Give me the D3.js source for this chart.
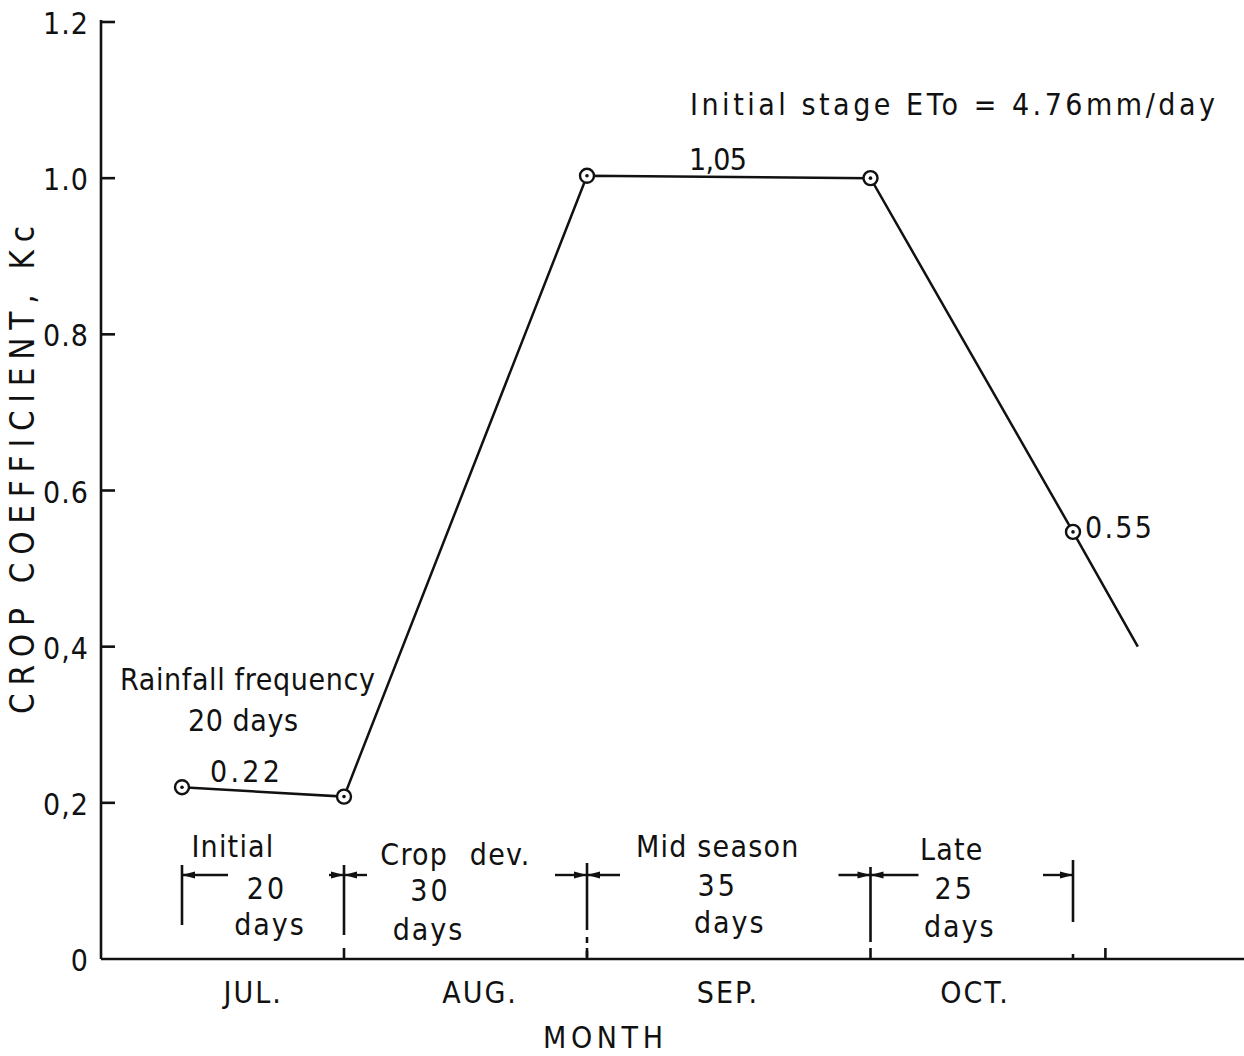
<!DOCTYPE html>
<html>
<head>
<meta charset="utf-8">
<script src="https://cdn.jsdelivr.net/npm/d3@7"></script>
<style>
  body { margin: 0; background: #fff; }
  text { font-family: "DejaVu Sans Condensed", "DejaVu Sans", sans-serif; fill: #111; }
</style>
</head>
<body>
<div id="chart"></div>
<script>
const width = 1244
const height = 1056

// crop coefficient curve, x in days after planting
const days = [0, 20, 50, 85, 110, 118]
const kc = [0.22, 0.208, 1.003, 1.0, 0.547, 0.40]
const markedPoints = 5          // the last point is just where the line stops

const yTicks = [0, 0.2, 0.4, 0.6, 0.8, 1.0, 1.2]
const yTickLabels = ["0", "0,2", "0,4", "0.6", "0.8", "1.0", "1.2"]

const stageNames = ["Initial", "Crop dev.", "Mid season", "Late"]
const stageDays = [20, 30, 35, 25]

const months = ["JUL.", "AUG.", "SEP.", "OCT."]
const monthMid = [8.8, 36.8, 67.4, 97.9]
const axisTickDays = [20, 50, 85, 110, 114]

const x = d3.scaleLinear().domain([0, 120]).range([182, 182 + 120 * 8.1])
const y = d3.scaleLinear().domain([0, 1.2]).range([959, 22])

const svg = d3.select("#chart").append("svg")
    .attr("width", width)
    .attr("height", height)

const ink = "#111"
const fs = 30

// y axis, ticks pointing into the plot
svg.append("line")
    .attr("x1", x(-10)).attr("x2", x(-10))
    .attr("y1", y(1.2) - 2).attr("y2", y(0))
    .attr("stroke", ink).attr("stroke-width", 2.6)

svg.selectAll(".ytick").data(yTicks.slice(1)).join("line")
    .attr("x1", x(-10)).attr("x2", x(-10) + 14)
    .attr("y1", d => y(d)).attr("y2", d => y(d))
    .attr("stroke", ink).attr("stroke-width", 2.6)

svg.selectAll(".ylab").data(yTicks).join("text")
    .attr("x", 89)
    .attr("y", d => y(d) + 12)
    .attr("text-anchor", "end")
    .attr("font-size", fs)
    .attr("letter-spacing", 1)
    .text((d, i) => yTickLabels[i])

svg.append("text")
    .attr("transform", "translate(34,470) rotate(-90)")
    .attr("text-anchor", "middle")
    .attr("font-size", 33)
    .attr("textLength", 488)
    .attr("lengthAdjust", "spacing")
    .text("CROP COEFFICIENT, Kc")

// x axis
svg.append("line")
    .attr("x1", x(-10)).attr("x2", width)
    .attr("y1", y(0)).attr("y2", y(0))
    .attr("stroke", ink).attr("stroke-width", 2.6)

svg.selectAll(".xtick").data(axisTickDays).join("line")
    .attr("x1", d => x(d)).attr("x2", d => x(d))
    .attr("y1", y(0)).attr("y2", (d, i) => y(0) - (d === 110 ? 5 : 11))
    .attr("stroke", ink).attr("stroke-width", 2.6)

svg.selectAll(".month").data(months).join("text")
    .attr("x", (d, i) => x(monthMid[i]))
    .attr("y", 1003)
    .attr("text-anchor", "middle")
    .attr("font-size", fs)
    .attr("letter-spacing", 2)
    .text(d => d)

svg.append("text")
    .attr("x", 603).attr("y", 1048)
    .attr("text-anchor", "middle")
    .attr("font-size", fs)
    .attr("textLength", 120)
    .attr("lengthAdjust", "spacing")
    .text("MONTH")

// Kc line and circle markers
const pts = days.map((d, i) => [d, kc[i]])
svg.append("path")
    .datum(pts)
    .attr("fill", "none")
    .attr("stroke", ink)
    .attr("stroke-width", 2.5)
    .attr("d", d3.line().x(d => x(d[0])).y(d => y(d[1])))

const marks = svg.selectAll(".pt").data(pts.slice(0, markedPoints)).join("g")
    .attr("transform", d => `translate(${x(d[0])},${y(d[1])})`)
marks.append("circle").attr("r", 7).attr("fill", "#fff").attr("stroke", ink).attr("stroke-width", 2.4)
marks.append("circle").attr("r", 1.8).attr("fill", ink)

// stage boundaries with little arrows
const bounds = [0]
stageDays.forEach(d => bounds.push(bounds[bounds.length - 1] + d))
const arrowY = 875
const boundTop = [865, 865, 863, 867, 860]
const boundBot = [925, 935, 930, 942, 922]

svg.selectAll(".bound").data(bounds).join("line")
    .attr("x1", d => x(d)).attr("x2", d => x(d))
    .attr("y1", (d, i) => boundTop[i]).attr("y2", (d, i) => boundBot[i])
    .attr("stroke", ink).attr("stroke-width", 2.6)

// dashed continuation at the start of mid season
svg.append("line")
    .attr("x1", x(50)).attr("x2", x(50))
    .attr("y1", 937).attr("y2", y(0))
    .attr("stroke", ink).attr("stroke-width", 2.6)
    .attr("stroke-dasharray", "6,8")

function arrow(xTip, dir, len) {
  // dir = -1 points left, +1 points right
  svg.append("line")
      .attr("x1", xTip).attr("x2", xTip - dir * len)
      .attr("y1", arrowY).attr("y2", arrowY)
      .attr("stroke", ink).attr("stroke-width", 2.4)
  svg.append("path")
      .attr("d", `M${xTip},${arrowY} l${-dir * 13},-3.5 l0,7 z`)
      .attr("fill", ink)
}
arrow(x(0), -1, 46)
arrow(x(20), 1, 15); arrow(x(20), -1, 23)
arrow(x(50), 1, 32); arrow(x(50), -1, 33)
arrow(x(85), 1, 32); arrow(x(85), -1, 48)
arrow(x(110), 1, 30)

const mids = stageDays.map((d, i) => (bounds[i] + bounds[i + 1]) / 2)
const nameShift = [-30, -10, -11, -20]
const nameY = [857, 865, 857, 860]
const numShift = [4, -35, -11, -17]
const numY = [899, 901, 896, 899]
const daysShift = [7, -37, 1, -12]
const daysY = [935, 940, 933, 937]

svg.selectAll(".sname").data(stageNames).join("text")
    .attr("x", (d, i) => x(mids[i]) + nameShift[i])
    .attr("y", (d, i) => nameY[i])
    .attr("text-anchor", "middle")
    .attr("font-size", fs)
    .attr("letter-spacing", 1.2)
    .attr("word-spacing", (d, i) => i === 1 ? 12 : 0)
    .text(d => d)

svg.selectAll(".snum").data(stageDays).join("text")
    .attr("x", (d, i) => x(mids[i]) + numShift[i])
    .attr("y", (d, i) => numY[i])
    .attr("text-anchor", "middle")
    .attr("font-size", fs)
    .attr("letter-spacing", 3)
    .text(d => d)

svg.selectAll(".sdays").data(stageDays).join("text")
    .attr("x", (d, i) => x(mids[i]) + daysShift[i])
    .attr("y", (d, i) => daysY[i])
    .attr("text-anchor", "middle")
    .attr("font-size", fs)
    .attr("letter-spacing", 2)
    .text("days")

// annotations
function note(tx, ty, str, anchor, len) {
  const t = svg.append("text")
      .attr("x", tx).attr("y", ty)
      .attr("text-anchor", anchor)
      .attr("font-size", fs)
      .text(str)
  if (len) t.attr("textLength", len).attr("lengthAdjust", "spacing")
  return t
}
note(120, 690, "Rainfall frequency", "start", 255)
note(243, 731, "20 days", "middle", 110)
note(210, 782, "0.22", "start", 70)
note(718, 170, "1,05", "middle", 58)
note(690, 115, "Initial stage ETo = 4.76mm/day", "start", 525)
note(1085, 538, "0.55", "start", 67)
</script>
</body>
</html>
